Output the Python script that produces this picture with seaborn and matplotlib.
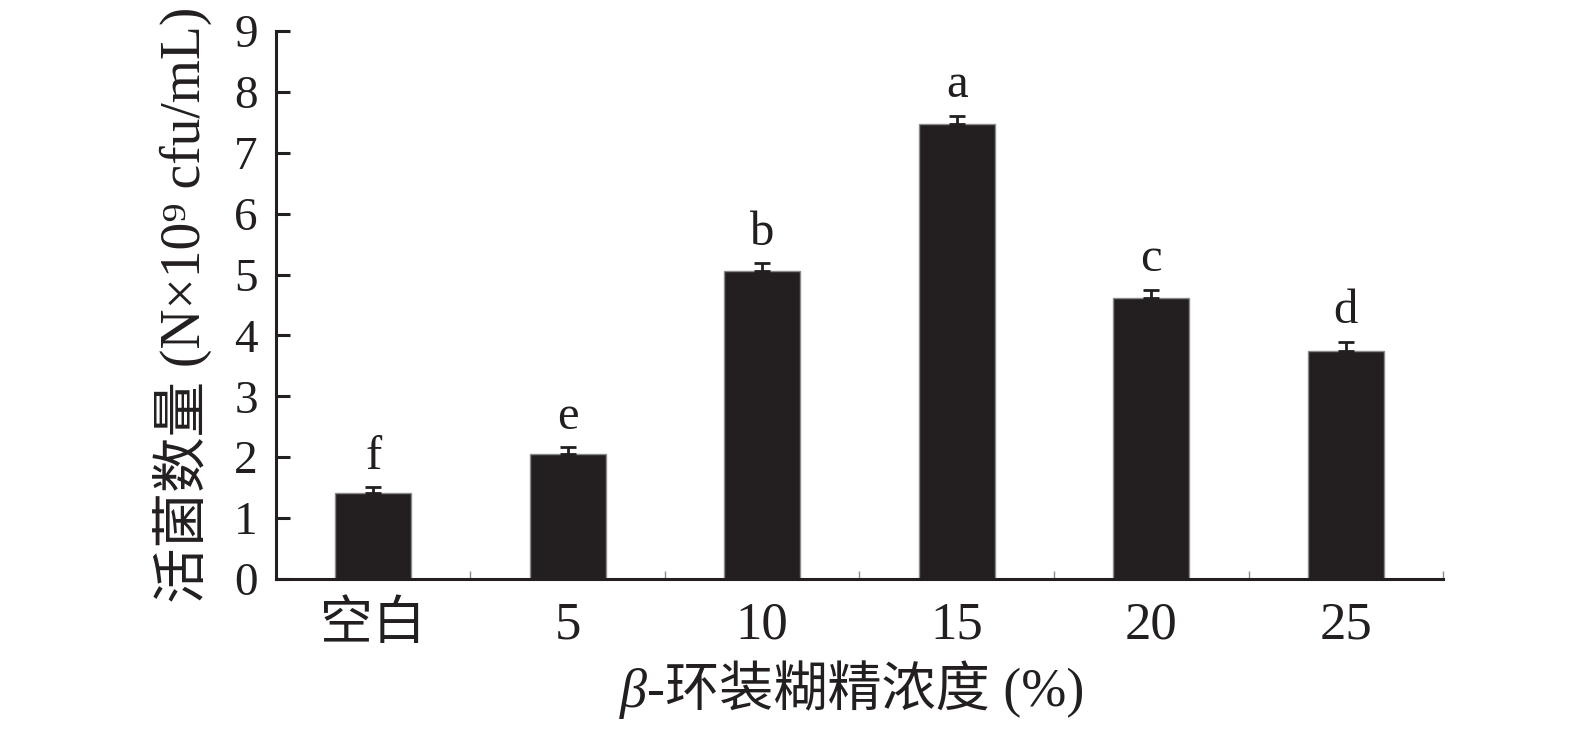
import matplotlib
matplotlib.use("Agg")
import matplotlib.pyplot as plt
import seaborn as sns
import pandas as pd
import numpy as np
from matplotlib.offsetbox import TextArea, HPacker, AnchoredOffsetbox

categories = ["空白", "5", "10", "15", "20", "25"]
means = [1.42, 2.06, 5.06, 7.47, 4.62, 3.74]
errors = [0.09, 0.10, 0.13, 0.14, 0.13, 0.16]
letters = ["f", "e", "b", "a", "c", "d"]

sns.set_theme(style="white")
FAM = ["Liberation Serif", "Noto Sans CJK SC", "DejaVu Sans"]
plt.rcParams["font.family"] = FAM

INK = "#231f20"
df = pd.DataFrame({"cat": categories, "val": means})

fig = plt.figure(figsize=(15.75, 7.34), dpi=100)
ax = fig.add_axes([0.1752, 0.2112, 0.9162 - 0.1752, 0.9578 - 0.2112])

sns.barplot(data=df, x="cat", y="val", color=INK, width=0.39,
            edgecolor="#8a8a8a", linewidth=1.0, saturation=1, ax=ax, errorbar=None)
x = np.arange(len(categories))
ax.errorbar(x, means, yerr=[np.zeros(len(means)), errors], fmt="none",
            ecolor=INK, elinewidth=2, capsize=6, capthick=2, zorder=3)
for xi, m, e, l in zip(x, means, errors, letters):
    ax.text(xi, m + e + 0.3, l, ha="center", va="baseline", fontsize=35,
            color=INK)

ax.set_xlim(-0.5, 5.5)
ax.set_ylim(0, 9)
ax.set_yticks(range(0, 10))
ax.tick_params(axis="y", direction="in", length=10, width=2.2, labelsize=34,
               pad=13, colors=INK, left=True)
ax.tick_params(axis="x", which="major", length=0, labelsize=38, pad=16,
               colors=INK)
ax.set_xticks(np.arange(0.5, 6.0, 1.0), minor=True)
ax.tick_params(axis="x", which="minor", direction="in", length=6, width=1,
               color="#8a8a8a", bottom=True)

for s in ["top", "right"]:
    ax.spines[s].set_visible(False)
for s in ["left", "bottom"]:
    ax.spines[s].set_color(INK)
    ax.spines[s].set_linewidth(2.2)

ax.set_xlabel("")
ax.set_ylabel("活菌数量 (N×10⁹ cfu/mL)", fontsize=40, color=INK, labelpad=16)

# x label with italic beta
t1 = TextArea("β", textprops=dict(fontsize=39, color=INK, style="italic",
                                  family=FAM))
t2 = TextArea("-环装糊精浓度 (%)", textprops=dict(fontsize=39, color=INK, family=FAM))
box = HPacker(children=[t1, t2], align="baseline", pad=0, sep=0)
anch = AnchoredOffsetbox(loc="center", child=box, frameon=False, pad=0,
                         bbox_to_anchor=(852 / 1575, 1 - 690 / 734),
                         bbox_transform=fig.transFigure, borderpad=0)
fig.add_artist(anch)

fig.savefig("out.png", dpi=100)
